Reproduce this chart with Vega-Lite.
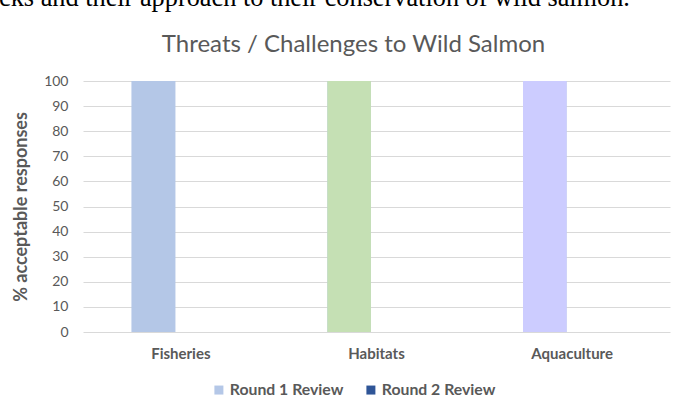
{
  "$schema": "https://vega.github.io/schema/vega-lite/v6.json",
  "width": 587,
  "height": 251,
  "autosize": {"type": "none"},
  "padding": {"left": 83, "top": 81, "right": 9, "bottom": 76},
  "background": "white",
  "config": {
    "view": {"stroke": null},
    "font": "Lato"
  },
  "title": {
    "text": "cks and their approach to their conservation of wild salmon.",
    "font": "Liberation Serif",
    "fontSize": 26.3,
    "fontWeight": "normal",
    "color": "#000000",
    "anchor": "start",
    "frame": "group",
    "baseline": "alphabetic",
    "dx": -84,
    "offset": 0
  },
  "data": {
    "values": [
      {"category": "Fisheries", "round": "Round 1 Review", "value": 100},
      {"category": "Fisheries", "round": "Round 2 Review", "value": 0},
      {"category": "Habitats", "round": "Round 1 Review", "value": 100},
      {"category": "Habitats", "round": "Round 2 Review", "value": 0},
      {"category": "Aquaculture", "round": "Round 1 Review", "value": 100},
      {"category": "Aquaculture", "round": "Round 2 Review", "value": 0}
    ]
  },
  "layer": [
    {
      "mark": {"type": "bar"},
      "encoding": {
        "x": {
          "field": "category", "type": "nominal", "sort": null,
          "scale": {"paddingInner": 0, "paddingOuter": 0},
          "axis": {
            "title": null, "labelAngle": 0, "ticks": false, "domain": false, "grid": false,
            "labelFont": "Lato", "labelFontSize": 15, "labelFontWeight": "bold",
            "labelColor": "#595959", "labelPadding": 14
          }
        },
        "xOffset": {
          "field": "round", "type": "nominal",
          "scale": {"domain": ["Round 1 Review", "Round 2 Review"], "paddingInner": 0.14, "paddingOuter": 1, "align": 0.48}
        },
        "y": {
          "field": "value", "type": "quantitative",
          "scale": {"domain": [0, 100]},
          "axis": {
            "title": "% acceptable responses", "values": [0,10,20,30,40,50,60,70,80,90,100],
            "labelOverlap": false,
            "ticks": false, "domain": false, "grid": true, "gridColor": "#D9D9D9", "gridWidth": 1,
            "labelFont": "Lato", "labelFontSize": 14, "labelColor": "#595959", "labelPadding": 15,
            "titleFont": "Lato", "titleFontSize": 18, "titleFontWeight": "bold", "titleColor": "#595959",
            "titlePadding": 13
          }
        },
        "color": {
          "field": "round", "type": "nominal",
          "scale": {"domain": ["Round 1 Review", "Round 2 Review"], "range": ["#B4C7E7", "#2F5597"]},
          "legend": {
            "title": null, "orient": "none", "direction": "horizontal",
            "legendX": 128, "legendY": 301,
            "symbolType": "square", "symbolSize": 81, "symbolStrokeWidth": 0,
            "labelFont": "Lato", "labelFontSize": 15.8, "labelFontWeight": "bold", "labelColor": "#595959",
            "labelOffset": 3, "columnPadding": 19
          }
        }
      }
    },
    {
      "transform": [{"filter": "datum.round == 'Round 1 Review'"}],
      "mark": {"type": "bar"},
      "encoding": {
        "x": {
          "field": "category", "type": "nominal", "sort": null,
          "scale": {"paddingInner": 0, "paddingOuter": 0},
          "axis": null
        },
        "xOffset": {
          "field": "round", "type": "nominal",
          "scale": {"domain": ["Round 1 Review", "Round 2 Review"], "paddingInner": 0.14, "paddingOuter": 1, "align": 0.48}
        },
        "y": {
          "field": "value", "type": "quantitative",
          "scale": {"domain": [0, 100]},
          "axis": {
            "title": "% acceptable responses", "values": [0,10,20,30,40,50,60,70,80,90,100],
            "labelOverlap": false,
            "ticks": false, "domain": false, "grid": true, "gridColor": "#D9D9D9", "gridWidth": 1,
            "labelFont": "Lato", "labelFontSize": 14, "labelColor": "#595959", "labelPadding": 15,
            "titleFont": "Lato", "titleFontSize": 18, "titleFontWeight": "bold", "titleColor": "#595959",
            "titlePadding": 13
          }
        },
        "color": {
          "field": "category", "type": "nominal",
          "scale": {"domain": ["Fisheries", "Habitats", "Aquaculture"], "range": ["#B4C7E7", "#C5E0B4", "#CCCCFF"]},
          "legend": null
        }
      }
    },
    {
      "mark": {"type": "bar", "opacity": 0},
      "encoding": {
        "x": {
          "field": "category", "type": "nominal", "sort": null,
          "scale": {"paddingInner": 0, "paddingOuter": 0},
          "axis": {
            "orient": "top", "labels": false, "ticks": false, "domain": false, "grid": false,
            "title": "Threats / Challenges to Wild Salmon",
            "titleFont": "Lato", "titleFontSize": 24, "titleFontWeight": "normal",
            "titleColor": "#595959", "titleAlign": "center", "titleAnchor": null,
            "titleX": 270, "titleY": -30, "titleBaseline": "alphabetic"
          }
        }
      }
    }
  ],
  "resolve": {"scale": {"color": "independent"}, "axis": {"x": "independent"}}
}
